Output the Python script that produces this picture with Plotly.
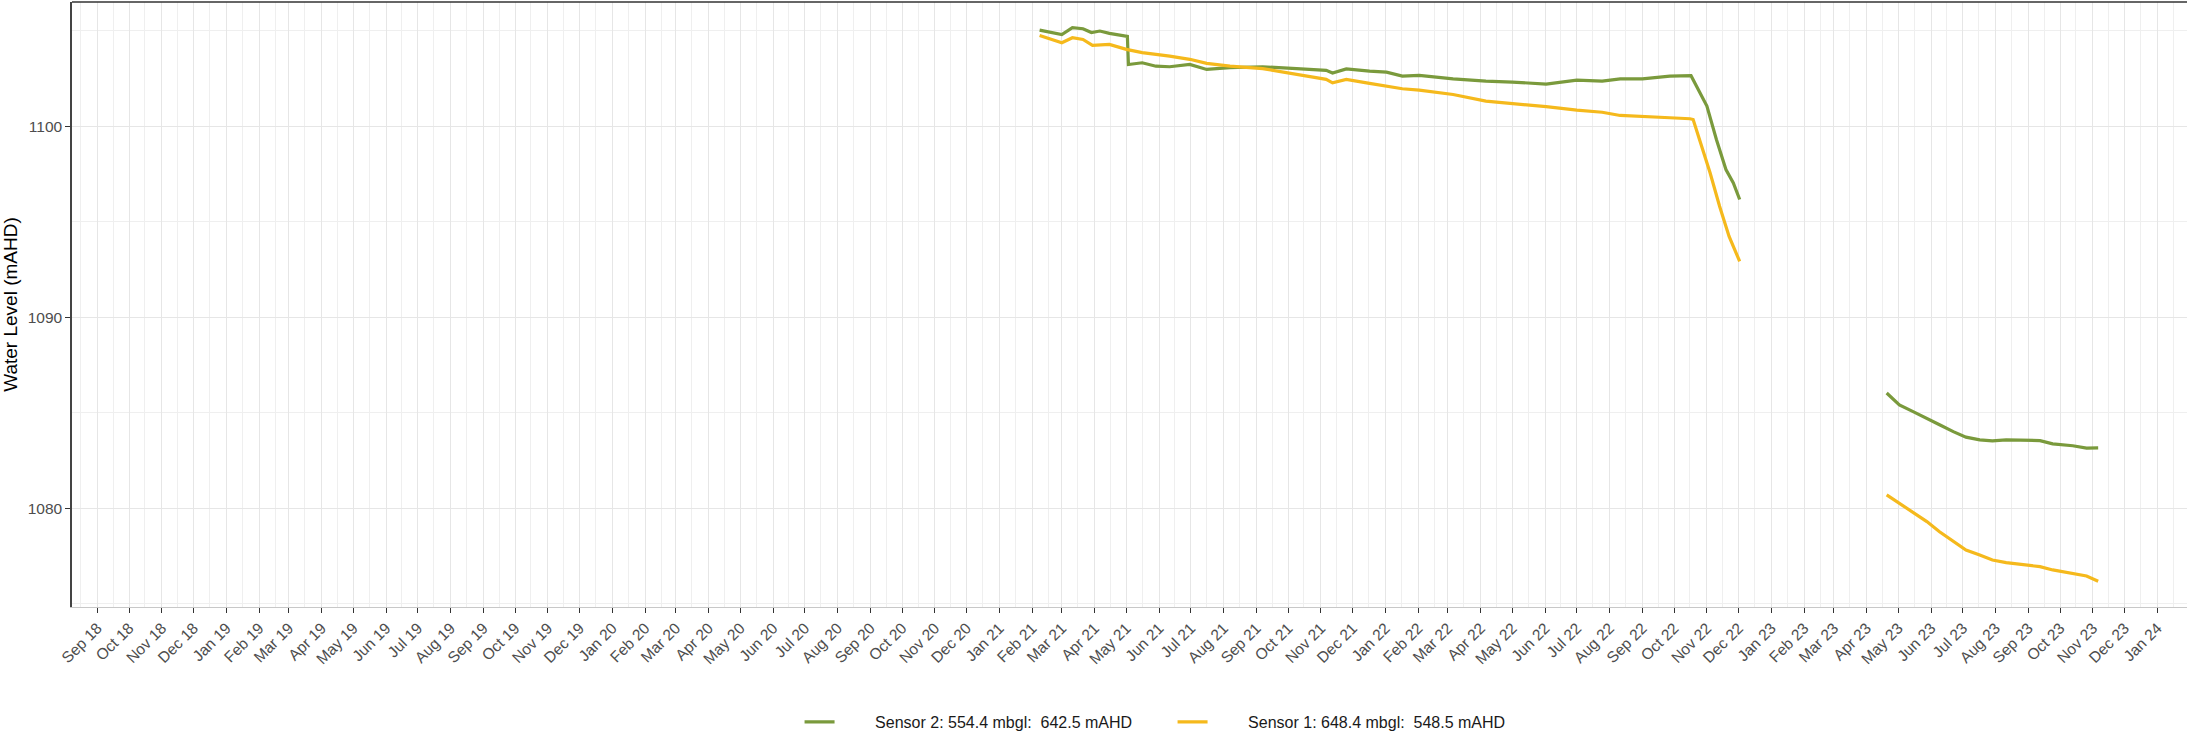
import plotly.graph_objects as go

# ---------------- data ----------------
s2_name = "Sensor 2: 554.4 mbgl:\u00a0 642.5 mAHD"
s1_name = "Sensor 1: 648.4 mbgl:\u00a0 548.5 mAHD"

# Sensor 2 - first logging period
s2_dates_a = ["2021-02-08", "2021-03-01", "2021-03-11", "2021-03-21", "2021-03-29", "2021-04-06",
              "2021-04-15", "2021-05-01", "2021-05-02", "2021-05-03", "2021-05-16", "2021-05-29",
              "2021-06-11", "2021-06-30", "2021-07-16", "2021-08-07", "2021-09-07", "2021-10-09",
              "2021-10-31", "2021-11-06", "2021-11-12", "2021-11-25", "2021-12-17", "2022-01-02",
              "2022-01-17", "2022-02-02", "2022-03-06", "2022-04-06", "2022-05-01", "2022-06-02",
              "2022-07-01", "2022-07-25", "2022-08-11", "2022-09-01", "2022-09-27", "2022-10-16",
              "2022-10-17", "2022-11-01", "2022-11-10", "2022-11-19", "2022-11-26", "2022-12-02"]
s2_values_a = [1105.03, 1104.80, 1105.16, 1105.10, 1104.90, 1104.98,
               1104.86, 1104.72, 1104.70, 1103.23, 1103.32, 1103.14,
               1103.11, 1103.23, 1102.97, 1103.06, 1103.11, 1103.01,
               1102.97, 1102.92, 1102.78, 1103.00, 1102.88, 1102.83,
               1102.62, 1102.66, 1102.48, 1102.36, 1102.31, 1102.20,
               1102.41, 1102.36, 1102.48, 1102.48, 1102.62, 1102.66,
               1102.64, 1101.05, 1099.30, 1097.73, 1097.03, 1096.16]

# Sensor 2 - second logging period
s2_dates_b = ["2023-04-20", "2023-05-02", "2023-05-15", "2023-05-28", "2023-06-09", "2023-06-22",
              "2023-07-04", "2023-07-17", "2023-07-29", "2023-08-11", "2023-08-24", "2023-09-12",
              "2023-09-24", "2023-10-13", "2023-10-26", "2023-11-06"]
s2_values_b = [1086.03, 1085.41, 1085.06, 1084.72, 1084.37, 1084.01,
               1083.72, 1083.58, 1083.53, 1083.58, 1083.58, 1083.54,
               1083.37, 1083.27, 1083.15, 1083.16]

# Sensor 1 - first logging period
s1_dates_a = ["2021-02-08", "2021-03-01", "2021-03-11", "2021-03-21", "2021-03-30", "2021-04-15",
              "2021-05-01", "2021-05-16", "2021-06-11", "2021-06-30", "2021-07-16", "2021-08-07",
              "2021-09-07", "2021-10-09", "2021-10-31", "2021-11-06", "2021-11-12", "2021-11-25",
              "2021-12-17", "2022-01-17", "2022-02-02", "2022-03-06", "2022-04-06", "2022-05-01",
              "2022-06-02", "2022-07-01", "2022-07-25", "2022-08-11", "2022-09-01", "2022-09-27",
              "2022-10-16", "2022-10-19", "2022-10-25", "2022-11-04", "2022-11-13", "2022-11-22",
              "2022-12-02"]
s1_values_a = [1104.75, 1104.37, 1104.63, 1104.54, 1104.23, 1104.28,
               1104.02, 1103.85, 1103.67, 1103.50, 1103.29, 1103.14,
               1103.01, 1102.71, 1102.54, 1102.45, 1102.27, 1102.45,
               1102.24, 1101.96, 1101.89, 1101.66, 1101.31, 1101.19,
               1101.02, 1100.84, 1100.73, 1100.56, 1100.52, 1100.44,
               1100.39, 1100.35, 1099.30, 1097.56, 1095.81, 1094.23,
               1092.92]

# Sensor 1 - second logging period
s1_dates_b = ["2023-04-20", "2023-05-02", "2023-05-15", "2023-05-28", "2023-06-09", "2023-06-22",
              "2023-07-04", "2023-07-17", "2023-07-29", "2023-08-11", "2023-08-24", "2023-09-12",
              "2023-09-24", "2023-10-13", "2023-10-26", "2023-11-06"]
s1_values_b = [1080.70, 1080.26, 1079.82, 1079.30, 1078.77, 1078.25,
               1077.81, 1077.55, 1077.29, 1077.15, 1077.08, 1076.94,
               1076.77, 1076.59, 1076.45, 1076.18]

y_ticks = [1080, 1090, 1100]

# ---------------- styling ----------------
GREEN = "#7a9a3c"
YELLOW = "#f5b91c"
FONT = "Liberation Sans, Arial, sans-serif"
PAD = "\u00a0" * 8  # gap between legend key and label, as in the reference

fig = go.Figure()
fig.add_trace(go.Scatter(x=s2_dates_a, y=s2_values_a, mode="lines", name=PAD + s2_name,
                         legendgroup="s2", line=dict(color=GREEN, width=3.2)))
fig.add_trace(go.Scatter(x=s2_dates_b, y=s2_values_b, mode="lines", name=PAD + s2_name,
                         legendgroup="s2", showlegend=False, line=dict(color=GREEN, width=3.2)))
fig.add_trace(go.Scatter(x=s1_dates_a, y=s1_values_a, mode="lines", name=PAD + s1_name,
                         legendgroup="s1", line=dict(color=YELLOW, width=3.2)))
fig.add_trace(go.Scatter(x=s1_dates_b, y=s1_values_b, mode="lines", name=PAD + s1_name,
                         legendgroup="s1", showlegend=False, line=dict(color=YELLOW, width=3.2)))

fig.update_layout(
    width=2187, height=747,
    paper_bgcolor="white", plot_bgcolor="white",
    margin=dict(l=72, r=0, t=2, b=140),
    font=dict(family=FONT, size=15, color="#4d4d4d"),
    showlegend=True,
    legend=dict(orientation="h", x=0.344, xanchor="left", y=-0.19, yanchor="middle",
                font=dict(family=FONT, size=16, color="#1a1a1a"),
                entrywidth=328, entrywidthmode="pixels",
                bgcolor="rgba(0,0,0,0)", itemclick=False),
    xaxis=dict(
        type="date", range=["2018-08-08", "2024-01-29"],
        tickmode="linear", tick0="2018-09-01", dtick="M1", tickformat="%b %y",
        tickangle=-45, ticks="outside", ticklen=5, tickwidth=1, tickcolor="#333333",
        tickfont=dict(family=FONT, size=15.5, color="#4d4d4d"),
        showgrid=True, gridcolor="#e6e6e6", gridwidth=1,
        minor=dict(tick0="2018-08-16", dtick="M1", showgrid=True, gridcolor="#efefef",
                   gridwidth=1, ticks=""),
        showline=True, linecolor="#c8c8c8", linewidth=1, mirror=False,
        zeroline=False, automargin=False,
    ),
    yaxis=dict(
        range=[1074.83, 1106.5], tickmode="array", tickvals=y_ticks,
        ticks="outside", ticklen=5, tickwidth=1, tickcolor="#333333",
        tickfont=dict(family=FONT, size=15.5, color="#4d4d4d"),
        showgrid=True, gridcolor="#e6e6e6", gridwidth=1,
        minor=dict(tick0=1075, dtick=10, showgrid=True, gridcolor="#efefef",
                   gridwidth=1, ticks=""),
        showline=True, linecolor="#444444", linewidth=1.5, mirror=False,
        zeroline=False, automargin=False,
        title=dict(text="Water Level (mAHD)", standoff=8,
                   font=dict(family=FONT, size=19, color="#000000")),
    ),
    shapes=[dict(type="line", xref="paper", yref="paper", x0=0, x1=1, y0=1, y1=1,
                 line=dict(color="#333333", width=1.5))],
)

fig.write_html("out.html", config={"displayModeBar": False},
               post_script="document.body.style.margin='0';")
